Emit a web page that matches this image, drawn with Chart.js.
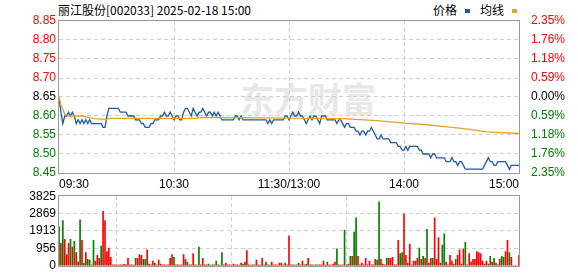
<!DOCTYPE html>
<html>
<head>
<meta charset="utf-8">
<script src="https://cdn.jsdelivr.net/npm/chart.js@4/dist/chart.umd.min.js"></script>
<style>
  body { margin: 0; width: 578px; height: 276px; background: #fff; position: relative; overflow: hidden; }
  #title { position: absolute; left: 58px; top: 1px; font: 12px "Noto Sans CJK SC", sans-serif; color: #000; white-space: nowrap; }
  #legend { position: absolute; left: 433px; top: 1px; font: 12px "Noto Sans CJK SC", sans-serif; color: #000; white-space: nowrap; }
  #legend i { display: inline-block; width: 5px; height: 4px; margin: 0 10px 2px 8px; vertical-align: middle; }
  #mark { position: absolute; left: 240px; top: 73px; font: bold 34px "Noto Sans CJK SC", sans-serif; color: #e8e8e8; letter-spacing: 0; }
  canvas { position: absolute; left: 0; }
  #price { top: 0; }
  #vol { top: 186px; }
</style>
</head>
<body>
<div id="title">丽江股份[002033] 2025-02-18 15:00</div>
<div id="legend">价格<i style="background:#1f5aa6"></i>均线<i style="background:#e0a526"></i></div>
<div id="mark">东方财富</div>
<canvas id="price" width="578" height="192"></canvas>
<canvas id="vol" width="578" height="90"></canvas>
<script>
// axis ticks
const priceTicks = [8.45, 8.5, 8.55, 8.6, 8.65, 8.7, 8.75, 8.8, 8.85];
const pctLabels = ["2.35%", "1.76%", "1.18%", "0.59%", "0.00%", "0.59%", "1.18%", "1.76%", "2.35%"];
const prevClose = 8.65;
const timeTicks = [0, 60, 120, 180, 240];
const timeLabels = ["09:30", "10:30", "11:30/13:00", "14:00", "15:00"];
const volTicks = [0, 956, 1913, 2869, 3825];

// minute prices, 09:30 .. 11:30 then 13:01 .. 15:00
const prices = [
  8.65, 8.61, 8.58, 8.60, 8.60, 8.61, 8.60, 8.61, 8.60, 8.58,
  8.59, 8.58, 8.59, 8.58, 8.59, 8.58, 8.59, 8.58, 8.58, 8.58,
  8.58, 8.58, 8.58, 8.57, 8.57, 8.60, 8.62, 8.62, 8.62, 8.62,
  8.62, 8.62, 8.61, 8.61, 8.61, 8.61, 8.60, 8.60, 8.60, 8.60,
  8.59, 8.59, 8.59, 8.58, 8.58, 8.57, 8.57, 8.57, 8.58, 8.58,
  8.59, 8.59, 8.59, 8.60, 8.60, 8.61, 8.60, 8.60, 8.61, 8.60,
  8.59, 8.60, 8.60, 8.59, 8.59, 8.61, 8.62, 8.62, 8.61, 8.60,
  8.62, 8.61, 8.60, 8.61, 8.61, 8.62, 8.61, 8.60, 8.61, 8.61,
  8.60, 8.61, 8.60, 8.61, 8.60, 8.59, 8.59, 8.59, 8.59, 8.59,
  8.59, 8.59, 8.60, 8.60, 8.59, 8.60, 8.59, 8.59, 8.59, 8.59,
  8.59, 8.59, 8.59, 8.59, 8.59, 8.59, 8.59, 8.59, 8.59, 8.58,
  8.59, 8.58, 8.59, 8.59, 8.59, 8.59, 8.59, 8.59, 8.60, 8.60,
  8.59, 8.60, 8.61, 8.60, 8.60, 8.61, 8.60, 8.60, 8.59, 8.58,
  8.59, 8.60, 8.59, 8.60, 8.60, 8.59, 8.58, 8.60, 8.60, 8.60,
  8.59, 8.59, 8.59, 8.59, 8.59, 8.58, 8.59, 8.59, 8.58, 8.57,
  8.58, 8.58, 8.57, 8.57, 8.57, 8.56, 8.56, 8.55, 8.56, 8.56,
  8.55, 8.56, 8.56, 8.57, 8.56, 8.55, 8.54, 8.54, 8.55, 8.54,
  8.54, 8.54, 8.54, 8.53, 8.53, 8.53, 8.53, 8.52, 8.52, 8.51,
  8.51, 8.52, 8.51, 8.52, 8.52, 8.52, 8.52, 8.52, 8.51, 8.51,
  8.50, 8.50, 8.50, 8.50, 8.49, 8.50, 8.50, 8.49, 8.49, 8.49,
  8.49, 8.49, 8.48, 8.48, 8.48, 8.49, 8.48, 8.48, 8.47, 8.48,
  8.48, 8.47, 8.46, 8.46, 8.46, 8.46, 8.46, 8.46, 8.46, 8.46,
  8.46, 8.46, 8.47, 8.48, 8.49, 8.48, 8.48, 8.47, 8.47, 8.48,
  8.48, 8.48, 8.48, 8.48, 8.47, 8.46, 8.47, 8.47, 8.47, 8.47,
  8.47
];

// average line, read at a few minutes
const avgMinutes = [0, 1, 3, 5, 12, 18, 25, 26, 72, 73, 110, 131, 148, 166, 180, 192, 201, 209, 218, 223, 240];
const avgValues = [8.65, 8.63, 8.605, 8.6, 8.6, 8.593, 8.591, 8.594, 8.594, 8.596, 8.595, 8.594, 8.593, 8.588, 8.581, 8.577, 8.572, 8.568, 8.562, 8.558, 8.554];

// minute volumes
const volumes = [
  2150, 1240, 2480, 1450, 620, 1240, 1450, 1030, 1340, 720,
  200, 2530, 1400, 150, 720, 360, 310, 50, 1400, 260,
  570, 410, 1090, 3000, 2480, 780, 980, 470, 60, 50,
  50, 40, 60, 50, 80, 50, 410, 60, 50, 40,
  410, 410, 620, 570, 360, 360, 880, 100, 50, 260,
  150, 50, 310, 100, 60, 50, 40, 50, 410, 620,
  470, 50, 60, 40, 50, 620, 360, 200, 60, 50,
  670, 50, 40, 1030, 50, 410, 60, 50, 100, 40,
  50, 60, 260, 50, 40, 720, 50, 150, 60, 50,
  40, 100, 50, 60, 40, 150, 100, 200, 830, 50,
  40, 60, 50, 310, 50, 40, 410, 60, 200, 50,
  40, 200, 50, 60, 40, 150, 150, 50, 150, 60,
  1650, 50, 60, 40, 50, 150, 50, 260, 60, 100,
  410, 50, 60, 40, 60, 50, 50, 60, 260, 40,
  200, 50, 40, 100, 200, 930, 50, 40, 60, 1960,
  50, 100, 520, 520, 1860, 2640, 520, 60, 150, 50,
  410, 60, 260, 50, 60, 360, 310, 3510, 360, 100,
  50, 410, 410, 410, 470, 60, 50, 1400, 670, 720,
  2840, 570, 150, 1190, 50, 260, 260, 410, 980, 360,
  520, 410, 2010, 150, 410, 410, 2640, 360, 1550, 150,
  1140, 1760, 200, 60, 570, 260, 100, 360, 570, 880,
  100, 930, 1290, 50, 670, 200, 360, 360, 780, 720,
  670, 260, 100, 260, 100, 520, 200, 410, 150, 50,
  360, 520, 470, 780, 1400, 720, 470, 0, 0, 0,
  570
];
// r = up minute, g = down minute
const volDirs = [
  "grgrrrgrgr", "rgrgrggrgr", "rrgrrrrrrr", "rrrrrrrrrr", "grrrggrrrr",
  "grrrrrrrrr", "grrrrrrgrr", "rrrgrrrrgr", "rrgrrgrrrr", "rrrrrrgrrr",
  "rrrrrrrrgr", "rrrrrrrrgr", "rrrrrgrrrg", "rrrrrgrrrr", "grrrrgrrrg",
  "rrgrggrrrr", "rrrrrrggrr", "rgrrrrrrgg", "rrgrrrrrgr", "grgrrgrrrr",
  "ggrrrrrgrr", "rrggrrrrrr", "rrrrrgrgrr", "rggrrgrrrr", "r"
].join("");

const RED = "#ff0000";
const GREEN = "#008000";
const GRID = "#cfcfcf";
const FRAME = "#999999";
const font = { family: "'Liberation Sans', sans-serif", size: 12 };

function priceColor(v) {
  const d = Math.round((v - prevClose) * 100);
  return d > 0 ? RED : d < 0 ? GREEN : "#000";
}

const framePlugin = {
  id: "frame",
  afterDatasetsDraw(chart) {
    const a = chart.chartArea;
    const ctx = chart.ctx;
    ctx.save();
    ctx.strokeStyle = FRAME;
    ctx.lineWidth = 1;
    ctx.strokeRect(Math.round(a.left) - 0.5, Math.round(a.top) - 0.5, Math.round(a.right - a.left) + 1, Math.round(a.bottom - a.top) + 1);
    ctx.restore();
  },
};

function innerGrid(min, max) {
  return (c) => (c.tick && (Math.abs(c.tick.value - min) < 1e-6 || Math.abs(c.tick.value - max) < 1e-6)) ? "rgba(0,0,0,0)" : GRID;
}

const xTime = {
  type: "linear",
  min: 0,
  max: 240,
  afterBuildTicks: (s) => { s.ticks = timeTicks.map((v) => ({ value: v })); },
  grid: { color: innerGrid(0, 240), drawTicks: false, lineWidth: 1 },
  border: { display: false, dash: [4, 3] },
};

new Chart("price", {
  type: "line",
  data: {
    datasets: [
      {
        label: "均线",
        data: avgMinutes.map((m, i) => ({ x: m, y: avgValues[i] })),
        borderColor: "#e0a526",
        borderWidth: 1.3,
        pointRadius: 0,
        yAxisID: "y",
      },
      {
        label: "价格",
        data: prices.map((p, i) => ({ x: i, y: p })),
        borderColor: "#1f5aa6",
        borderWidth: 1.3,
        pointRadius: 0,
        yAxisID: "y",
      },
    ],
  },
  options: {
    responsive: false,
    animation: false,
    layout: { padding: { top: 21 } },
    plugins: { legend: { display: false }, tooltip: { enabled: false } },
    scales: {
      x: {
        ...xTime,
        afterFit: (s) => { s.height = 19; },
        ticks: {
          align: "inner",
          maxRotation: 0,
          padding: 4,
          color: "#000",
          font: font,
          callback: (v) => timeLabels[timeTicks.indexOf(v)],
        },
      },
      y: {
        position: "left",
        min: 8.45,
        max: 8.85,
        afterBuildTicks: (s) => { s.ticks = priceTicks.map((v) => ({ value: v })); },
        afterFit: (s) => { s.width = 59; },
        grid: { color: innerGrid(8.45, 8.85), drawTicks: false },
        border: { display: false, dash: [4, 3] },
        ticks: {
          padding: 3,
          font: font,
          color: (c) => priceColor(c.tick.value),
          callback: (v) => v.toFixed(2),
        },
      },
      y2: {
        position: "right",
        min: 8.45,
        max: 8.85,
        afterBuildTicks: (s) => { s.ticks = priceTicks.map((v) => ({ value: v })); },
        afterFit: (s) => { s.width = 59; },
        grid: { display: false },
        border: { display: false },
        ticks: {
          padding: 4,
          font: font,
          color: (c) => priceColor(c.tick.value),
          callback: (v) => pctLabels[priceTicks.findIndex((t) => Math.abs(t - v) < 1e-6)],
        },
      },
    },
  },
  plugins: [framePlugin],
});

new Chart("vol", {
  type: "bar",
  data: {
    datasets: [
      {
        data: volumes.map((v, i) => ({ x: i, y: v })),
        backgroundColor: volumes.map((v, i) => (volDirs[i] === "g" ? GREEN : RED)),
        barThickness: 1,
        grouped: false,
      },
    ],
  },
  options: {
    responsive: false,
    animation: false,
    layout: { padding: { top: 10, right: 59 } },
    plugins: { legend: { display: false }, tooltip: { enabled: false } },
    scales: {
      x: {
        ...xTime,
        offset: false,
        afterFit: (s) => { s.height = 6; },
        ticks: { display: false },
      },
      y: {
        min: 0,
        max: 3825,
        afterBuildTicks: (s) => { s.ticks = volTicks.map((v) => ({ value: v })); },
        afterFit: (s) => { s.width = 59; },
        grid: { color: innerGrid(0, 3825), drawTicks: false },
        border: { display: false, dash: [4, 3] },
        ticks: { padding: 3, font: font, color: "#000", callback: (v) => String(v) },
      },
    },
  },
  plugins: [framePlugin],
});
</script>
</body>
</html>
